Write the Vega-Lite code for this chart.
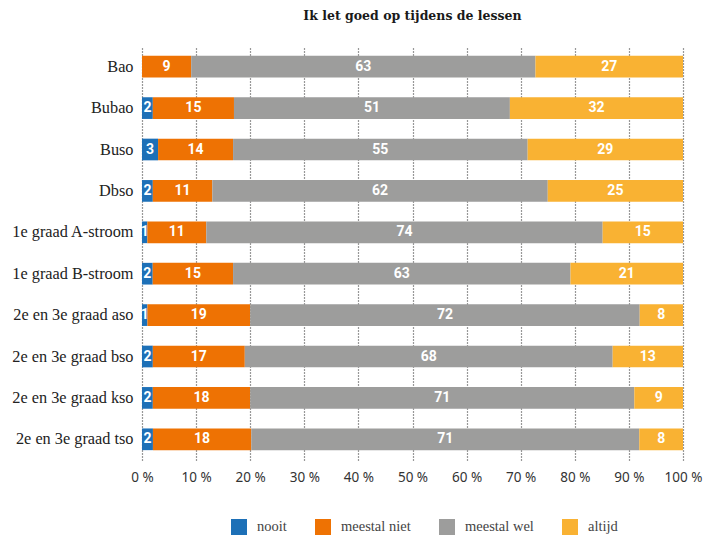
{
  "$schema": "https://vega.github.io/schema/vega-lite/v6.json",
  "width": 541,
  "height": 414,
  "autosize": {"type": "none"},
  "padding": {"left": 142, "top": 46, "right": 29, "bottom": 79},
  "background": "white",
  "title": {
    "text": "Ik let goed op tijdens de lessen",
    "font": "DejaVu Serif",
    "fontSize": 12.5,
    "fontWeight": "bold",
    "color": "#1a1a1a",
    "anchor": "middle",
    "offset": 24
  },
  "config": {"view": {"stroke": null}},
  "data": {
    "values": [
      {"groep": "Bao", "antwoord": "nooit", "k": 1, "pct": 0},
      {"groep": "Bao", "antwoord": "meestal niet", "k": 2, "pct": 9},
      {"groep": "Bao", "antwoord": "meestal wel", "k": 3, "pct": 63},
      {"groep": "Bao", "antwoord": "altijd", "k": 4, "pct": 27},
      {"groep": "Bubao", "antwoord": "nooit", "k": 1, "pct": 2},
      {"groep": "Bubao", "antwoord": "meestal niet", "k": 2, "pct": 15},
      {"groep": "Bubao", "antwoord": "meestal wel", "k": 3, "pct": 51},
      {"groep": "Bubao", "antwoord": "altijd", "k": 4, "pct": 32},
      {"groep": "Buso", "antwoord": "nooit", "k": 1, "pct": 3},
      {"groep": "Buso", "antwoord": "meestal niet", "k": 2, "pct": 14},
      {"groep": "Buso", "antwoord": "meestal wel", "k": 3, "pct": 55},
      {"groep": "Buso", "antwoord": "altijd", "k": 4, "pct": 29},
      {"groep": "Dbso", "antwoord": "nooit", "k": 1, "pct": 2},
      {"groep": "Dbso", "antwoord": "meestal niet", "k": 2, "pct": 11},
      {"groep": "Dbso", "antwoord": "meestal wel", "k": 3, "pct": 62},
      {"groep": "Dbso", "antwoord": "altijd", "k": 4, "pct": 25},
      {"groep": "1e graad A-stroom", "antwoord": "nooit", "k": 1, "pct": 1},
      {"groep": "1e graad A-stroom", "antwoord": "meestal niet", "k": 2, "pct": 11},
      {"groep": "1e graad A-stroom", "antwoord": "meestal wel", "k": 3, "pct": 74},
      {"groep": "1e graad A-stroom", "antwoord": "altijd", "k": 4, "pct": 15},
      {"groep": "1e graad B-stroom", "antwoord": "nooit", "k": 1, "pct": 2},
      {"groep": "1e graad B-stroom", "antwoord": "meestal niet", "k": 2, "pct": 15},
      {"groep": "1e graad B-stroom", "antwoord": "meestal wel", "k": 3, "pct": 63},
      {"groep": "1e graad B-stroom", "antwoord": "altijd", "k": 4, "pct": 21},
      {"groep": "2e en 3e graad aso", "antwoord": "nooit", "k": 1, "pct": 1},
      {"groep": "2e en 3e graad aso", "antwoord": "meestal niet", "k": 2, "pct": 19},
      {"groep": "2e en 3e graad aso", "antwoord": "meestal wel", "k": 3, "pct": 72},
      {"groep": "2e en 3e graad aso", "antwoord": "altijd", "k": 4, "pct": 8},
      {"groep": "2e en 3e graad bso", "antwoord": "nooit", "k": 1, "pct": 2},
      {"groep": "2e en 3e graad bso", "antwoord": "meestal niet", "k": 2, "pct": 17},
      {"groep": "2e en 3e graad bso", "antwoord": "meestal wel", "k": 3, "pct": 68},
      {"groep": "2e en 3e graad bso", "antwoord": "altijd", "k": 4, "pct": 13},
      {"groep": "2e en 3e graad kso", "antwoord": "nooit", "k": 1, "pct": 2},
      {"groep": "2e en 3e graad kso", "antwoord": "meestal niet", "k": 2, "pct": 18},
      {"groep": "2e en 3e graad kso", "antwoord": "meestal wel", "k": 3, "pct": 71},
      {"groep": "2e en 3e graad kso", "antwoord": "altijd", "k": 4, "pct": 9},
      {"groep": "2e en 3e graad tso", "antwoord": "nooit", "k": 1, "pct": 2},
      {"groep": "2e en 3e graad tso", "antwoord": "meestal niet", "k": 2, "pct": 18},
      {"groep": "2e en 3e graad tso", "antwoord": "meestal wel", "k": 3, "pct": 71},
      {"groep": "2e en 3e graad tso", "antwoord": "altijd", "k": 4, "pct": 8}
    ]
  },
  "encoding": {
    "y": {
      "field": "groep",
      "type": "nominal",
      "sort": null,
      "title": null,
      "scale": {"paddingInner": 0.476, "paddingOuter": 0.238},
      "axis": {
        "domain": false,
        "ticks": false,
        "labelPadding": 9,
        "labelFont": "Liberation Serif",
        "labelFontSize": 16.3,
        "labelColor": "#222222"
      }
    }
  },
  "layer": [
    {
      "mark": {"type": "bar"},
      "encoding": {
        "x": {
          "field": "pct",
          "type": "quantitative",
          "stack": "normalize",
          "title": null,
          "scale": {"domain": [0, 1]},
          "axis": {
            "values": [0, 0.1, 0.2, 0.3, 0.4, 0.5, 0.6, 0.7, 0.8, 0.9, 1],
            "labelExpr": "round(datum.value * 100) + ' %'",
            "labelFlush": false,
            "grid": true,
            "gridDash": [1, 2],
            "gridColor": "#333333",
            "gridWidth": 1.2,
            "domain": false,
            "ticks": false,
            "labelPadding": 10,
            "labelFont": "Noto Sans",
            "labelFontSize": 13.5,
            "labelColor": "#333333"
          }
        },
        "color": {
          "field": "antwoord",
          "type": "nominal",
          "title": null,
          "scale": {
            "domain": ["nooit", "meestal niet", "meestal wel", "altijd"],
            "range": ["#1d70b7", "#ee7203", "#9d9d9c", "#f9b233"]
          },
          "legend": {
            "orient": "none",
            "legendX": 89,
            "legendY": 473,
            "direction": "horizontal",
            "padding": 0,
            "symbolType": "square",
            "symbolSize": 256,
            "symbolStrokeWidth": 0,
            "symbolOpacity": 1,
            "labelOffset": 10,
            "columnPadding": 28,
            "labelFont": "Liberation Serif",
            "labelFontSize": 14.5,
            "labelColor": "#444444"
          }
        },
        "order": {"field": "k", "type": "quantitative"}
      }
    },
    {
      "transform": [{"filter": "datum.pct > 0"}],
      "mark": {
        "type": "text",
        "font": "Roboto",
        "fontWeight": "bold",
        "fontSize": 14,
        "color": "white",
        "align": "center",
        "baseline": "middle"
      },
      "encoding": {
        "x": {
          "field": "pct",
          "type": "quantitative",
          "stack": "normalize",
          "bandPosition": 0.5
        },
        "detail": {"field": "antwoord", "type": "nominal"},
        "text": {"field": "pct", "type": "quantitative"},
        "order": {"field": "k", "type": "quantitative"}
      }
    }
  ]
}
